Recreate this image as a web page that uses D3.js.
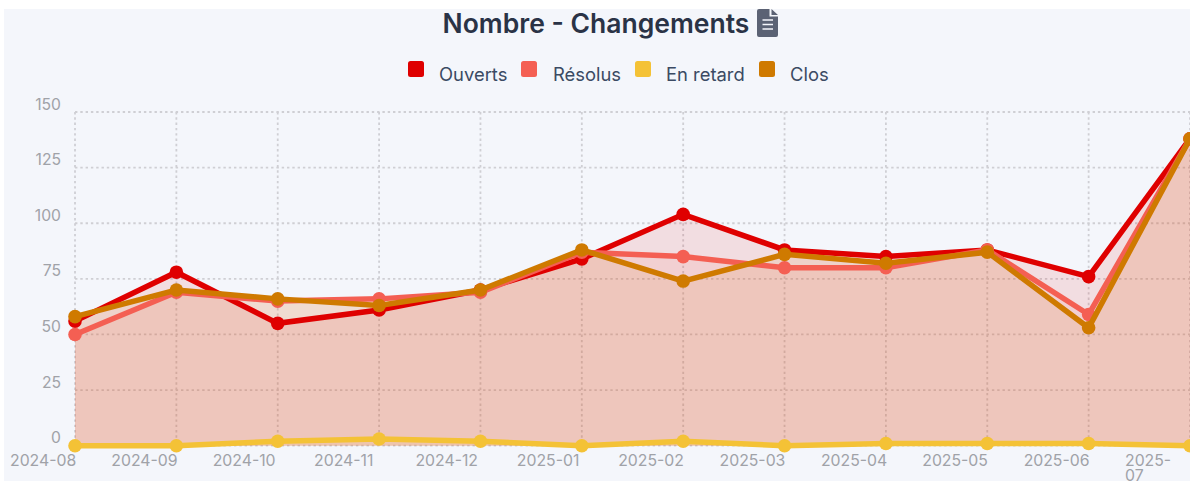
<!DOCTYPE html>
<html><head><meta charset="utf-8">
<script src="https://cdn.jsdelivr.net/npm/d3@7"></script>
<style>html,body{margin:0;padding:0;background:#fff;overflow:hidden}svg{display:block;font-family:Inter,"Noto Sans",sans-serif}</style>
</head><body><svg id="c" width="1190" height="481"></svg>
<script>
const categories=["2024-08","2024-09","2024-10","2024-11","2024-12","2025-01","2025-02","2025-03","2025-04","2025-05","2025-06","2025-07"];
const ouverts=[56,78,55,61,70,84,104,88,85,88,76,138];
const resolus=[50,69,65,66,69,87,85,80,80,88,59,138];
const enRetard=[0,0,2,3,2,0,2,0,1,1,1,0];
const clos=[58,70,66,63,70,88,74,86,82,87,53,138];
const yTicks=[0,25,50,75,100,125,150];
const seriesNames=["Ouverts","Résolus","En retard","Clos"];
const seriesColors=["#df0000","#f45f53","#f4c236","#cf7a00"];
const seriesValues=[ouverts,resolus,enRetard,clos];
const svg=d3.select("#c");
svg.append("rect").attr("x",4).attr("y",9).attr("width",1186).attr("height",472).attr("fill","#f4f6fb");
const x=d3.scalePoint().domain(categories).range([75,1190]);
const y=d3.scaleLinear().domain([0,150]).range([445.7,112]);
// grid
const grid=svg.append("g").attr("stroke","#cfcfd4").attr("stroke-width",1.8).attr("stroke-dasharray","2.4 2.9");
grid.selectAll("line.h").data(yTicks).join("line").attr("class","h").attr("x1",75).attr("x2",1190).attr("y1",d=>y(d)).attr("y2",d=>y(d));
grid.selectAll("line.v").data(categories).join("line").attr("class","v").attr("x1",d=>x(d)).attr("x2",d=>x(d)).attr("y1",y(150)).attr("y2",y(0));
// axis labels
const txt="#a0a2a8";
svg.append("g").selectAll("text").data(yTicks).join("text").attr("x",61).attr("y",d=>y(d)-2.5).attr("text-anchor","end").attr("font-size",15.7).attr("fill",txt).text(d=>d);
const xl=svg.append("g").selectAll("text").data(categories).join("text").attr("x",d=>x(d)-65).attr("y",466).attr("text-anchor","start").attr("font-size",15.8).attr("fill",txt);
xl.each(function(d,i){
  const t=d3.select(this);
  if(i===categories.length-1){
    const parts=d.split("-");
    t.append("tspan").attr("x",x(d)-65).attr("dy",0).text(parts[0]+"-");
    t.append("tspan").attr("x",x(d)-65).attr("dy",15).text(parts[1]);
  } else t.text(d);
});
// series
const area=d3.area().x((d,i)=>x(categories[i])).y0(y(0)).y1(d=>y(d));
const line=d3.line().x((d,i)=>x(categories[i])).y(d=>y(d));
seriesValues.forEach((vals,s)=>{
  svg.append("path").attr("d",area(vals)).attr("fill",seriesColors[s]).attr("fill-opacity",0.1);
});
seriesValues.forEach((vals,s)=>{
  const g=svg.append("g");
  g.append("path").attr("d",line(vals)).attr("fill","none").attr("stroke",seriesColors[s]).attr("stroke-width",5.5);
  g.selectAll("circle").data(vals).join("circle").attr("cx",(d,i)=>x(categories[i])).attr("cy",d=>y(d)).attr("r",6.8).attr("fill",seriesColors[s]);
});
// title
svg.append("text").attr("x",596).attr("y",33).attr("text-anchor","middle").attr("font-size",26.5).attr("font-weight",600).attr("fill","#2a3346").text("Nombre - Changements");
// icon
svg.append("path").attr("transform","translate(757,9)").attr("fill","#5b6274")
  .attr("d","M2 0H12.5V7.5H21V26Q21 28 19 28H2Q0 28 0 26V2Q0 0 2 0ZM14.5 0L21 6H14.5Z");
const ic=svg.append("g").attr("stroke","#f4f6fb").attr("stroke-width",1.5);
[20,24.5,29].forEach(v=>ic.append("line").attr("x1",762.5).attr("x2",773).attr("y1",v).attr("y2",v));
// legend
const legendSwatchX=[408,521,635,759];
const legendTextX=[439,553,666,790];
const lg=svg.append("g");
seriesNames.forEach((n,i)=>{
  lg.append("rect").attr("x",legendSwatchX[i]).attr("y",61).attr("width",16).attr("height",16).attr("rx",2.5).attr("fill",seriesColors[i]);
  lg.append("text").attr("x",legendTextX[i]).attr("y",81).attr("font-size",18.4).attr("fill","#3b4a63").text(n);
});
</script></body></html>
